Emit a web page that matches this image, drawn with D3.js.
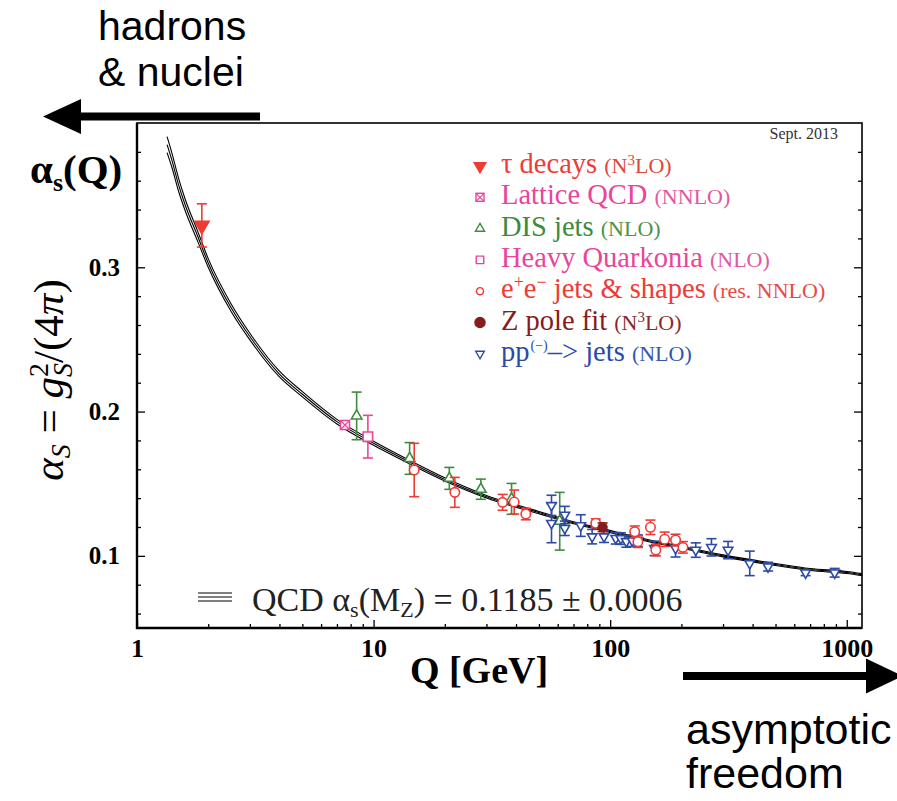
<!DOCTYPE html>
<html>
<head>
<meta charset="utf-8">
<script src="https://cdn.jsdelivr.net/npm/d3@7"></script>
<style>
  html, body { margin: 0; padding: 0; background: #fff; }
  svg { display: block; }
</style>
</head>
<body>
<div id="chart"></div>
<script>
(function(){
	'use strict';

	// ---- DATA ----
	// fit curve: Q [GeV], central value, upper and lower edge of the band
	var fitQ     = [1.34, 1.4, 1.5, 1.6, 1.8, 2.0, 2.5, 3.0, 4.0, 5.0, 7.0, 10, 15, 20, 30, 50, 70, 91.19, 150, 200, 300, 500, 700, 1000, 1160];
	var fitAlpha = [0.385, 0.375, 0.357, 0.343, 0.322, 0.303, 0.272, 0.252, 0.226, 0.212, 0.193, 0.178, 0.163, 0.153, 0.141, 0.130, 0.123, 0.1185, 0.110, 0.106, 0.100, 0.094, 0.0905, 0.0885, 0.0870];
	var fitUpper = [0.3905, 0.380, 0.3615, 0.347, 0.3255, 0.306, 0.2746, 0.2543, 0.228, 0.2138, 0.1946, 0.1794, 0.1642, 0.1541, 0.1419, 0.1308, 0.1237, 0.1192, 0.1107, 0.1067, 0.1007, 0.0947, 0.0912, 0.0892, 0.0877];
	var fitLower = [0.3795, 0.370, 0.3525, 0.339, 0.3185, 0.300, 0.2694, 0.2497, 0.224, 0.2102, 0.1914, 0.1766, 0.1618, 0.1519, 0.1401, 0.1292, 0.1223, 0.1178, 0.1093, 0.1053, 0.0993, 0.0933, 0.0898, 0.0878, 0.0863];

	// measurements: q = scale [GeV], a = alpha_s, e = error
	var tauDecays = [{q: 1.88, a: 0.329, e: 0.015}];
	var latticeQCD = [{q: 7.57, a: 0.1907, e: 0.002}];
	var disJets = [
		{q: 8.48, a: 0.197, e: 0.0165}, {q: 14.2, a: 0.1675, e: 0.011},
		{q: 20.9, a: 0.1537, e: 0.0076}, {q: 28.4, a: 0.1462, e: 0.007},
		{q: 38.3, a: 0.1395, e: 0.0107}, {q: 61.2, a: 0.124, e: 0.02}
	];
	var heavyQuarkonia = [{q: 9.46, a: 0.1826, e: 0.0148}];
	var eeJets = [
		{q: 14.85, a: 0.1595, e: 0.0185}, {q: 22.05, a: 0.144, e: 0.0104},
		{q: 35.1, a: 0.1371, e: 0.0055}, {q: 39.3, a: 0.1373, e: 0.0083},
		{q: 44.0, a: 0.129, e: 0.004}, {q: 86.9, a: 0.1226, e: 0.003},
		{q: 127, a: 0.1167, e: 0.004}, {q: 131, a: 0.1098, e: 0.004},
		{q: 148, a: 0.1198, e: 0.005}, {q: 156, a: 0.104, e: 0.004},
		{q: 170, a: 0.1115, e: 0.005}, {q: 189, a: 0.111, e: 0.004},
		{q: 203, a: 0.1059, e: 0.004}
	];
	var zPoleFit = [{q: 92.9, a: 0.1198, e: 0.003}];
	var ppJets = [
		{q: 56.5, a: 0.135, e: 0.007}, {q: 56.5, a: 0.1226, e: 0.0135},
		{q: 64.3, a: 0.1283, e: 0.006}, {q: 64.3, a: 0.1191, e: 0.005},
		{q: 75.1, a: 0.121, e: 0.0075}, {q: 83.9, a: 0.1133, e: 0.005},
		{q: 94.2, a: 0.1133, e: 0.004}, {q: 105.6, a: 0.1122, e: 0.004},
		{q: 111, a: 0.112, e: 0.004}, {q: 117, a: 0.110, e: 0.004},
		{q: 124, a: 0.1105, e: 0.004}, {q: 131, a: 0.1105, e: 0.004},
		{q: 154, a: 0.1052, e: 0.005}, {q: 189, a: 0.1052, e: 0.006},
		{q: 230, a: 0.104, e: 0.005}, {q: 268, a: 0.1059, e: 0.006},
		{q: 315, a: 0.104, e: 0.006}, {q: 389, a: 0.0948, e: 0.0085},
		{q: 465, a: 0.0925, e: 0.003}, {q: 670, a: 0.0883, e: 0.002},
		{q: 889, a: 0.0883, e: 0.003}
	];

	var xMajorTicks = [1, 10, 100, 1000];
	var xTickLabels = ['1', '10', '100', '1000'];
	var yMajorTicks = [0.1, 0.2, 0.3];
	var yTickLabels = ['0.1', '0.2', '0.3'];
	var yMinorTicks = [0.06, 0.08, 0.12, 0.14, 0.16, 0.18, 0.22, 0.24, 0.26, 0.28, 0.32, 0.34, 0.36, 0.38];

	// ---- LAYOUT ----
	var W = 897, H = 801;
	var left = 137, right = 862, top = 123, bottom = 628;
	var RED = '#ef3b35', PINK = '#e8459b', GREEN = '#3d8c3d', BLUE = '#2c4aa6', MAROON = '#861c1c';
	var SERIF = '"Liberation Serif", "Times New Roman", serif';
	var SANS = '"Liberation Sans", Arial, sans-serif';

	var svg = d3.select('#chart').append('svg')
		.attr('width', W).attr('height', H);

	var xScale = d3.scaleLog().domain([1, 1160]).range([left, right]);
	var yScale = d3.scaleLinear().domain([0.05, 0.4]).range([bottom, top]);

	drawArrows();
	drawFrame();
	drawCurve();
	drawPoints();
	drawLegend();
	drawLabels();

	function drawArrows(){
		var g = svg.append('g').attr('class', 'arrows');
		g.append('rect').attr('x', 76).attr('y', 112.5).attr('width', 184).attr('height', 8).attr('fill', '#000');
		g.append('path').attr('d', 'M43,116.5 L81,99 L81,134 Z').attr('fill', '#000');
		g.append('rect').attr('x', 683).attr('y', 672).attr('width', 188).attr('height', 8).attr('fill', '#000');
		g.append('path').attr('d', 'M903,676 L866,658.5 L866,693.5 Z').attr('fill', '#000');

		g.append('text').attr('x', 98).attr('y', 40).text('hadrons')
			.style('font-family', SANS).style('font-size', '41px');
		g.append('text').attr('x', 98).attr('y', 86).text('& nuclei')
			.style('font-family', SANS).style('font-size', '41px');
		g.append('text').attr('x', 686).attr('y', 744).text('asymptotic')
			.style('font-family', SANS).style('font-size', '43px');
		g.append('text').attr('x', 686).attr('y', 788).text('freedom')
			.style('font-family', SANS).style('font-size', '43px');
	}

	function drawFrame(){
		var minorX = xScale.ticks().filter(function(v){ return xMajorTicks.indexOf(v) < 0 && v < 1160; });

		var xMajor = d3.axisBottom(xScale).tickValues(xMajorTicks)
			.tickSizeInner(-8).tickSizeOuter(0).tickPadding(11)
			.tickFormat(function(d, i){ return xTickLabels[i]; });
		var xMinor = d3.axisBottom(xScale).tickValues(minorX)
			.tickSizeInner(-4).tickSizeOuter(0).tickFormat('');
		var yMajor = d3.axisLeft(yScale).tickValues(yMajorTicks)
			.tickSizeInner(-8).tickSizeOuter(0).tickPadding(17)
			.tickFormat(function(d, i){ return yTickLabels[i]; });
		var yMinor = d3.axisLeft(yScale).tickValues(yMinorTicks)
			.tickSizeInner(-4).tickSizeOuter(0).tickFormat('');
		var yMajorR = d3.axisRight(yScale).tickValues(yMajorTicks)
			.tickSizeInner(-8).tickSizeOuter(0).tickFormat('');
		var yMinorR = d3.axisRight(yScale).tickValues(yMinorTicks)
			.tickSizeInner(-4).tickSizeOuter(0).tickFormat('');

		var gx = svg.append('g').attr('transform', 'translate(0,' + bottom + ')');
		gx.call(xMinor);
		gx.append('g').call(xMajor);
		var gy = svg.append('g').attr('transform', 'translate(' + left + ',0)');
		gy.call(yMinor);
		gy.append('g').call(yMajor);
		var gr = svg.append('g').attr('transform', 'translate(' + right + ',0)');
		gr.call(yMinorR);
		gr.append('g').call(yMajorR);

		svg.selectAll('.domain').remove();
		svg.selectAll('.tick line').attr('stroke', '#000').attr('stroke-width', 1.3);
		svg.selectAll('.tick text')
			.attr('fill', '#000')
			.style('font-family', SERIF).style('font-weight', 'bold');
		gx.selectAll('.tick text').style('font-size', '26px');
		gy.selectAll('.tick text').style('font-size', '25px');

		// frame
		svg.append('rect').attr('x', left).attr('y', top)
			.attr('width', right - left).attr('height', bottom - top)
			.attr('fill', 'none').attr('stroke', '#000').attr('stroke-width', 1.6);
		svg.append('path')
			.attr('d', 'M' + left + ',' + top + ' V' + bottom + ' H' + right)
			.attr('fill', 'none').attr('stroke', '#000').attr('stroke-width', 2.4);
	}

	function drawCurve(){
		var g = svg.append('g').attr('class', 'fit');
		[fitUpper, fitAlpha, fitLower].forEach(function(series){
			var pts = fitQ.map(function(q, i){ return [q, series[i]]; });
			var line = d3.line()
				.x(function(d){ return xScale(d[0]); })
				.y(function(d){ return yScale(d[1]); })
				.curve(d3.curveMonotoneX);
			g.append('path').attr('d', line(pts))
				.attr('fill', 'none').attr('stroke', '#000').attr('stroke-width', 1.1);
		});
	}

	function errorBars(g, data, color){
		var bars = g.selectAll(null).data(data).enter().append('g');
		bars.append('line')
			.attr('x1', function(d){ return xScale(d.q); })
			.attr('x2', function(d){ return xScale(d.q); })
			.attr('y1', function(d){ return yScale(d.a + d.e); })
			.attr('y2', function(d){ return yScale(d.a - d.e); });
		[1, -1].forEach(function(s){
			bars.append('line')
				.attr('x1', function(d){ return xScale(d.q) - 5; })
				.attr('x2', function(d){ return xScale(d.q) + 5; })
				.attr('y1', function(d){ return yScale(d.a + s * d.e); })
				.attr('y2', function(d){ return yScale(d.a + s * d.e); });
		});
		bars.selectAll('line').attr('stroke', color).attr('stroke-width', 1.6);
	}

	function symbolAt(g, data, type, size, rot, color, filled){
		g.selectAll(null).data(data).enter().append('path')
			.attr('d', d3.symbol().type(type).size(size))
			.attr('transform', function(d){
				return 'translate(' + xScale(d.q) + ',' + yScale(d.a) + ') rotate(' + rot + ')';
			})
			.attr('fill', filled ? color : '#fff')
			.attr('stroke', color).attr('stroke-width', 1.6);
	}

	function latticeMarks(g, data, color, half){
		var m = g.selectAll(null).data(data).enter().append('g')
			.attr('transform', function(d){ return 'translate(' + xScale(d.q) + ',' + yScale(d.a) + ')'; });
		m.append('rect').attr('x', -half).attr('y', -half).attr('width', 2 * half).attr('height', 2 * half)
			.attr('fill', '#fff').attr('stroke', color).attr('stroke-width', 1.6);
		m.append('path').attr('d', 'M' + (-half) + ',' + (-half) + 'L' + half + ',' + half + 'M' + half + ',' + (-half) + 'L' + (-half) + ',' + half)
			.attr('stroke', color).attr('stroke-width', 1.3);
	}

	function drawPoints(){
		var g = svg.append('g').attr('class', 'points');
		errorBars(g, disJets, GREEN);
		symbolAt(g, disJets, d3.symbolTriangle, 48, 0, GREEN, false);
		errorBars(g, ppJets, BLUE);
		symbolAt(g, ppJets, d3.symbolTriangle, 40, 180, BLUE, false);
		errorBars(g, eeJets, RED);
		symbolAt(g, eeJets, d3.symbolCircle, 70, 0, RED, false);
		errorBars(g, heavyQuarkonia, PINK);
		symbolAt(g, heavyQuarkonia, d3.symbolSquare, 90, 0, PINK, false);
		errorBars(g, latticeQCD, PINK);
		latticeMarks(g, latticeQCD, PINK, 4.5);
		errorBars(g, zPoleFit, MAROON);
		symbolAt(g, zPoleFit, d3.symbolCircle, 60, 0, MAROON, true);
		errorBars(g, tauDecays, RED);
		symbolAt(g, tauDecays, d3.symbolTriangle, 90, 180, RED, true);
	}

	function richText(textSel, parts){
		parts.forEach(function(p){
			var t = textSel.append('tspan').text(p.t);
			if (p.size) t.style('font-size', p.size + 'px');
			if (p.fill) t.attr('fill', p.fill);
			if (p.shift) t.attr('baseline-shift', p.shift);
			if (p.dx) t.attr('dx', p.dx);
			if (p.italic) t.style('font-style', 'italic');
		});
		return textSel;
	}

	function drawLegend(){
		var g = svg.append('g').attr('class', 'legend');
		var x0 = 501, mx = 480, y0 = 173, dy = 31.3;

		g.append('text').attr('x', 838).attr('y', 139).attr('text-anchor', 'end')
			.attr('fill', '#333').style('font-family', SERIF).style('font-size', '16px')
			.text('Sept. 2013');

		var rows = [
			{c: RED, pc: '#e0473b', parts: [{t: 'τ decays '}, {t: '(N', size: 22, p: 1}, {t: '3', size: 15, shift: 'super', p: 1}, {t: 'LO)', size: 22, p: 1}]},
			{c: PINK, pc: '#e2589f', parts: [{t: 'Lattice QCD '}, {t: '(NNLO)', size: 22, p: 1}]},
			{c: GREEN, pc: '#4c934c', parts: [{t: 'DIS jets '}, {t: '(NLO)', size: 22, p: 1}]},
			{c: PINK, pc: '#e2589f', parts: [{t: 'Heavy Quarkonia '}, {t: '(NLO)', size: 22, p: 1}]},
			{c: RED, pc: '#e84a42', parts: [{t: 'e'}, {t: '+', size: 18, shift: 'super'}, {t: 'e'}, {t: '\u2212', size: 18, shift: 'super'}, {t: ' jets & shapes '}, {t: '(res. NNLO)', size: 22, p: 1}]},
			{c: MAROON, pc: '#8a2a2a', parts: [{t: 'Z pole fit '}, {t: '(N', size: 22, p: 1}, {t: '3', size: 15, shift: 'super', p: 1}, {t: 'LO)', size: 22, p: 1}]},
			{c: BLUE, pc: '#3556ad', parts: [{t: 'pp'}, {t: '(\u2212)', size: 14, shift: '11px', dx: 1}, {t: '\u2013> jets '}, {t: '(NLO)', size: 22, p: 1}]}
		];

		rows.forEach(function(r, i){
			var y = y0 + i * dy;
			var t = g.append('text').attr('x', x0).attr('y', y).attr('fill', r.c)
				.style('font-family', SERIF).style('font-size', '28.5px');
			richText(t, r.parts.map(function(p){
				return {t: p.t, size: p.size, shift: p.shift, dx: p.dx, fill: p.p ? r.pc : null};
			}));
		});

		var my = function(i){ return y0 + i * dy - 7; };
		var markers = [
			{type: d3.symbolTriangle, size: 60, rot: 180, c: RED, f: true},
			null,
			{type: d3.symbolTriangle, size: 36, rot: 0, c: GREEN, f: false},
			{type: d3.symbolSquare, size: 56, rot: 0, c: PINK, f: false},
			{type: d3.symbolCircle, size: 40, rot: 0, c: RED, f: false},
			{type: d3.symbolCircle, size: 80, rot: 0, c: MAROON, f: true},
			{type: d3.symbolTriangle, size: 32, rot: 180, c: BLUE, f: false}
		];
		markers.forEach(function(m, i){
			if (!m) return;
			g.append('path').attr('d', d3.symbol().type(m.type).size(m.size))
				.attr('transform', 'translate(' + mx + ',' + my(i) + ') rotate(' + m.rot + ')')
				.attr('fill', m.f ? m.c : '#fff').attr('stroke', m.c).attr('stroke-width', 1.4);
		});
		var lm = g.append('g').attr('transform', 'translate(' + mx + ',' + my(1) + ')');
		lm.append('rect').attr('x', -4).attr('y', -4).attr('width', 8).attr('height', 8)
			.attr('fill', '#fff').attr('stroke', PINK).attr('stroke-width', 1.4);
		lm.append('path').attr('d', 'M-4,-4L4,4M4,-4L-4,4').attr('stroke', PINK).attr('stroke-width', 1.2);

		// fit legend
		var fy = 597;
		[-4, 0, 4].forEach(function(o){
			g.append('line').attr('x1', 198).attr('x2', 232).attr('y1', fy + o).attr('y2', fy + o)
				.attr('stroke', '#000').attr('stroke-width', 1.1);
		});
		var ft = g.append('text').attr('x', 252).attr('y', 611).attr('fill', '#222')
			.style('font-family', SERIF).style('font-size', '34px');
		richText(ft, [
			{t: 'QCD \u03b1'}, {t: 's', size: 22, shift: '-6px'}, {t: '(M'}, {t: 'Z', size: 22, shift: '-6px'},
			{t: ') = 0.1185 \u00b1 0.0006'}
		]);
	}

	function drawLabels(){
		var a = svg.append('text').attr('x', 30).attr('y', 183)
			.style('font-family', SERIF).style('font-size', '41px').style('font-weight', 'bold');
		richText(a, [{t: '\u03b1'}, {t: 's', size: 26, shift: '-8px'}, {t: '(Q)'}]);

		var r = svg.append('text').attr('transform', 'translate(63,380) rotate(-90)')
			.attr('text-anchor', 'middle')
			.style('font-family', SERIF).style('font-size', '43px');
		richText(r, [
			{t: '\u03b1', italic: true}, {t: 'S', size: 28, shift: '-7px', italic: true},
			{t: ' = '}, {t: 'g', italic: true},
			{t: '2', size: 28, shift: '15px'}, {t: 'S', size: 28, shift: '-9px', dx: -14, italic: true},
			{t: '/(4'}, {t: '\u03c0', italic: true}, {t: ')'}
		]);

		svg.append('text').attr('x', 479).attr('y', 683).attr('text-anchor', 'middle')
			.style('font-family', SERIF).style('font-size', '38px').style('font-weight', 'bold')
			.text('Q [GeV]');
	}

})();
</script>
</body>
</html>
